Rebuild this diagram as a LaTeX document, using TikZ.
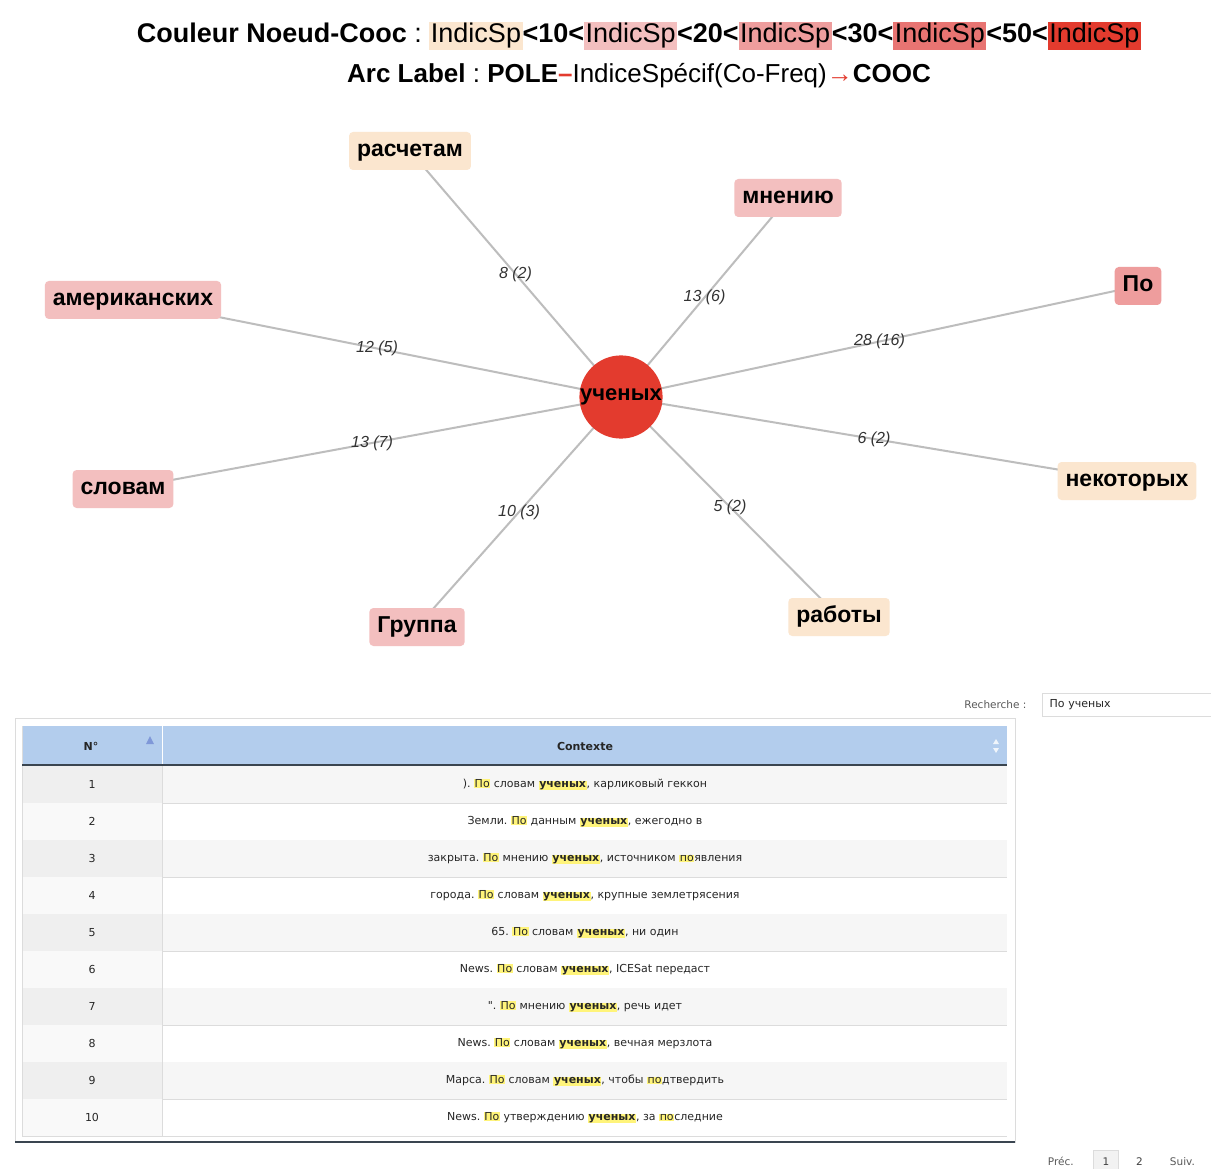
\documentclass[tikz,border=0pt]{standalone}
\usepackage{fontspec}
\setmainfont{Liberation Sans}
\newfontfamily\tabfont{DejaVu Sans}
\usetikzlibrary{positioning}
\pgfdeclarelayer{background}
\pgfsetlayers{background,main}
\frenchspacing
\definecolor{cA}{HTML}{FBE6CF}
\definecolor{cB}{HTML}{F3BFBF}
\definecolor{cC}{HTML}{EE9D9D}
\definecolor{cD}{HTML}{E87472}
\definecolor{cE}{HTML}{E33B2E}
\definecolor{arcgray}{HTML}{BDBDBD}
\definecolor{hdrblue}{HTML}{B3CDED}
\definecolor{rowgray}{HTML}{F6F6F6}
\definecolor{colgray}{HTML}{EFEFEF}
\definecolor{hlyellow}{HTML}{FFF47A}
\definecolor{sortblue}{HTML}{7F98D8}
\definecolor{linegray}{HTML}{DCDCDC}
\definecolor{darkline}{HTML}{3A4550}
\newcommand\hl[1]{{\setlength{\fboxsep}{0.6pt}\colorbox{hlyellow}{#1}}}
\newcommand\hlb[1]{{\setlength{\fboxsep}{0.6pt}\colorbox{hlyellow}{\bfseries #1}}}
\newcommand\ind[1]{{\setlength{\fboxsep}{1.5pt}\colorbox{#1}{\mdseries IndicSp}}}
\tikzset{
  cooc/.style={rounded corners=4pt, minimum height=38pt, inner xsep=8pt,
    text height=14pt, text depth=3pt, font=\fontsize{23}{25}\selectfont\bfseries},
  pole/.style={circle, fill=cE, minimum size=80pt, inner sep=0pt,
    font=\fontsize{22}{24}\selectfont\bfseries},
  arc/.style={draw=arcgray, line width=2pt},
  elabel/.style={font=\fontsize{16}{18}\selectfont\itshape, text=black!80, inner sep=1pt},
  cell/.style={font=\tabfont\fontsize{11}{13}\selectfont, text=black!85, inner sep=0pt},
  small/.style={font=\tabfont\fontsize{10.5}{12}\selectfont, text=black!65,
    text height=8pt, text depth=2pt}
}
\begin{document}
\begin{tikzpicture}[x=1pt, y=-1pt]
   \useasboundingbox (0,0) rectangle (1211,1169);
   \begin{pgfonlayer}{background}
      \fill[white] (0,0) rectangle (1211,1169);
   \end{pgfonlayer}
   \node (legend) at (639,36) {\fontsize{27}{30}\selectfont\bfseries Couleur Noeud-Cooc
      \mdseries: \ind{cA}\bfseries<10<\ind{cB}<20<\ind{cC}<30<\ind{cD}<50<\ind{cE}};
   \node (arclabel) at (639,76) {\fontsize{26}{30}\selectfont\bfseries Arc Label \mdseries:
      \bfseries POLE\textcolor{cE}{--}\mdseries IndiceSpécif(Co-Freq)\textcolor{cE}{→}\bfseries COOC};
   \def \Vertices {
      raschetam/410/151/cA/расчетам,
      mneniyu/788/198/cB/мнению,
      po/1138/286/cC/По,
      amerik/133/300/cB/американских,
      slovam/123/489/cB/словам,
      gruppa/417/627/cB/Группа,
      raboty/839/617/cA/работы,
      nekotor/1127/481/cA/некоторых}
   \def \Edges {
      raschetam/8 (2),
      mneniyu/13 (6),
      po/28 (16),
      amerik/12 (5),
      slovam/13 (7),
      gruppa/10 (3),
      raboty/5 (2),
      nekotor/6 (2)}
   \node[pole] (uchenyh) at (621,397) {ученых};
   \foreach \u / \x / \y / \c / \t in \Vertices {
      \node[cooc, fill=\c] (\u) at (\x, \y) {\t};
   }
   \begin{pgfonlayer}{background}
   \foreach \u / \l in \Edges {
      \path[arc] (uchenyh.center) -- node[elabel] {\l} (\u.center);
   }
   \end{pgfonlayer}
   \node[draw=linegray, anchor=west, minimum width=190pt, minimum height=23pt,
      text width=175pt, align=left, inner xsep=5pt, cell] (search) at (1042,705) {По ученых};
   \node[small, left=12pt of search] (searchlabel) {Recherche :};
   \draw[draw=linegray, line width=1pt] (15,718) rectangle (1015,1142);
   \draw[draw=darkline, line width=1.2pt] (15,1142) -- (1015,1142);
   \fill[hdrblue] (22,726) rectangle (1007,765);
   \foreach \i in {1,...,10} {
      \ifodd\i
         \fill[rowgray] (162,{766+37*(\i-1)}) rectangle (1007,{766+37*\i});
         \fill[colgray] (22,{766+37*(\i-1)}) rectangle (162,{766+37*\i});
      \else
         \fill[rowgray!70] (22,{766+37*(\i-1)}) rectangle (162,{766+37*\i});
      \fi
      \draw[linegray] (22,{766+37*\i}) -- (1007,{766+37*\i});
   }
   \draw[linegray] (22,726) -- (22,1137);
   \draw[linegray] (162,766) -- (162,1137);
   \draw[white, line width=1pt] (162,726) -- (162,765);
   \draw[darkline, line width=1.2pt] (22,765) -- (1007,765);
   \node[cell, font=\tabfont\fontsize{11}{13}\selectfont\bfseries] (numhead) at (91,746) {N°};
   \node[cell, font=\tabfont\fontsize{11}{13}\selectfont\bfseries] (ctxhead) at (585,746) {Contexte};
   \fill[sortblue] (146,744) -- (154,744) -- (150,736) -- cycle;
   \fill[white!80!hdrblue] (993,744) -- (999,744) -- (996,739) -- cycle;
   \fill[white!80!hdrblue] (993,748) -- (999,748) -- (996,753) -- cycle;
   \def \Rows {
      1/{). \hl{По} словам \hlb{ученых}, карликовый геккон},
      2/{Земли. \hl{По} данным \hlb{ученых}, ежегодно в},
      3/{закрыта. \hl{По} мнению \hlb{ученых}, источником \hl{по}явления},
      4/{города. \hl{По} словам \hlb{ученых}, крупные землетрясения},
      5/{65. \hl{По} словам \hlb{ученых}, ни один},
      6/{News. \hl{По} словам \hlb{ученых}, ICESat передаст},
      7/{". \hl{По} мнению \hlb{ученых}, речь идет},
      8/{News. \hl{По} словам \hlb{ученых}, вечная мерзлота},
      9/{Марса. \hl{По} словам \hlb{ученых}, чтобы \hl{по}дтвердить},
      10/{News. \hl{По} утверждению \hlb{ученых}, за \hl{по}следние}}
   \foreach \i / \t in \Rows {
      \node[cell] (num\i) at (92,{784.5+37*(\i-1)}) {\i};
      \node[cell] (row\i) at (585,{784.5+37*(\i-1)}) {\t};
   }
   \node[draw=linegray, fill=white!95!black, minimum width=25pt, minimum height=24pt,
      small, text=black!75] (page1) at (1106,1162) {1};
   \node[small, left=16pt of page1] (prev) {Préc.};
   \node[small, text=black!75, right=14pt of page1] (page2) {2};
   \node[small, right=20pt of page2] (next) {Suiv.};
\end{tikzpicture}
\end{document}
